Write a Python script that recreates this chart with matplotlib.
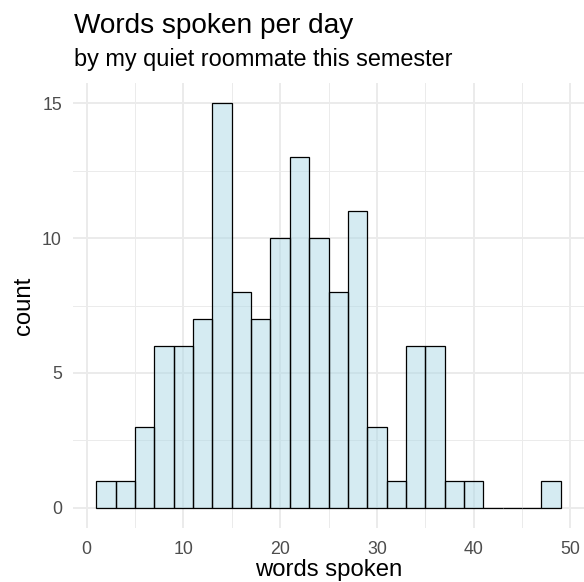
import numpy as np
import matplotlib
matplotlib.use("Agg")
import matplotlib.pyplot as plt
from matplotlib.ticker import MultipleLocator

plt.rcParams['font.family'] = ['Liberation Sans', 'DejaVu Sans']

# histogram bins (width 2) and counts
bin_left = [1, 3, 5, 7, 9, 11, 13, 15, 17, 19, 21, 23, 25, 27, 29, 31, 33, 35, 37, 39, 41, 43, 45, 47]
counts = [1, 1, 3, 6, 6, 7, 15, 8, 7, 10, 13, 10, 8, 11, 3, 1, 6, 6, 1, 1, 0, 0, 0, 1]
bin_width = 2

x_ticks = [0, 10, 20, 30, 40, 50]
y_ticks = [0, 5, 10, 15]

fig = plt.figure(figsize=(5.84, 5.82), dpi=100)
ax = fig.add_axes([73 / 584, 1 - 528 / 582, (584 - 73) / 584, (528 - 83) / 582])

ax.bar(bin_left, counts, width=bin_width, align='edge',
       color='#add8e6', alpha=0.5, edgecolor='none', zorder=2)
ax.bar(bin_left, counts, width=bin_width, align='edge',
       color='none', edgecolor='black', linewidth=0.9, zorder=3)

ax.set_xlim(1 - 2.4, 49 + 2.4)
ax.set_ylim(-0.75, 15.75)
ax.set_xticks(x_ticks)
ax.set_yticks(y_ticks)
ax.xaxis.set_minor_locator(MultipleLocator(5))
ax.yaxis.set_minor_locator(MultipleLocator(2.5))

ax.grid(which='major', color='#ebebeb', linewidth=1.4, zorder=0)
ax.grid(which='minor', color='#ebebeb', linewidth=0.7, zorder=0)
ax.set_axisbelow(True)

for s in ax.spines.values():
    s.set_visible(False)
ax.tick_params(which='both', length=0)
ax.tick_params(axis='x', labelsize=12.8, labelcolor='#4d4d4d', pad=9)
ax.tick_params(axis='y', labelsize=12.8, labelcolor='#4d4d4d', pad=8)

ax.set_xlabel('words spoken', fontsize=17.2, labelpad=1)
ax.set_ylabel('count', fontsize=17.2, labelpad=5)

fig.text(74 / 584, 1 - 33 / 582, 'Words spoken per day', fontsize=20.2,
         ha='left', va='baseline')
fig.text(74 / 584, 1 - 66 / 582, 'by my quiet roommate this semester', fontsize=16.9,
         ha='left', va='baseline')

fig.savefig('out.png', dpi=100)
